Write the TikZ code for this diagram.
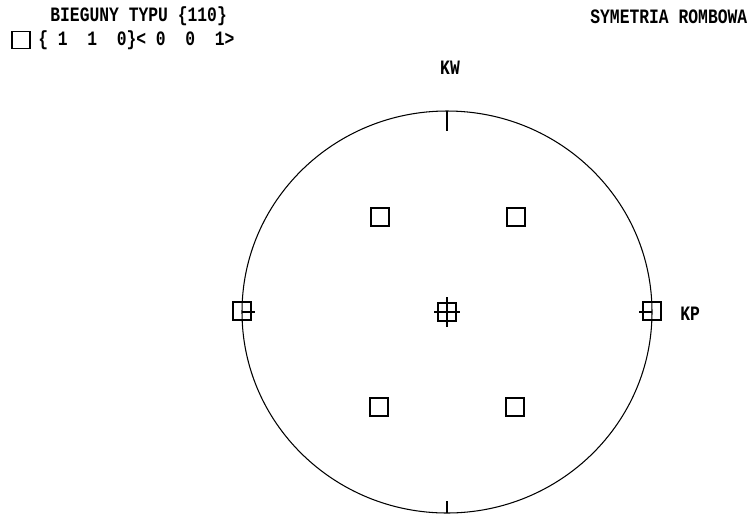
\documentclass[tikz,border=0pt]{standalone}
\usepackage{fontspec}
\setmonofont{Liberation Mono}
\usetikzlibrary{positioning}

\begin{document}
\begin{tikzpicture}[
    x=0.02cm, y=-0.02cm,
    pole/.style={rectangle, draw, line width=1.3pt, minimum size=0.36cm, inner sep=0pt},
    txt/.style={font=\ttfamily\bfseries\fontsize{9.3}{10}\selectfont, inner sep=0pt, yscale=1.25, transform shape}
]
\useasboundingbox (0,0) rectangle (751,515);

% header
\node[txt, anchor=west] (title) at (50,16.5) {BIEGUNY TYPU \{110\}};
\node[txt, anchor=west] (sym) at (590,16.5) {SYMETRIA ROMBOWA};
\node[pole, line width=0.9pt, minimum width=0.36cm, minimum height=0.34cm] (key) at (21,40) {};
\node[txt, anchor=west] (dir) at (38,40) {\{\ 1\ \ 1\ \ 0\}<\ 0\ \ 0\ \ 1>};

% projection circle
\coordinate (o) at (447,312);
\draw[line width=0.6pt] (o) ellipse [x radius=205, y radius=201];
\node[txt] (kw) at (450,68) {KW};
\node[txt, anchor=west] (kp) at (680,314) {KP};

% ticks
\draw[line width=0.6pt] (447,111) -- (447,131);
\draw[line width=0.6pt] (447,513) -- (447,501);
\draw[line width=0.6pt] (242,312) -- (255,312);
\draw[line width=0.6pt] (652,312) -- (639,312);

% poles {110}
\node[pole] (c) at (o) {};
\node[pole] (nw) at (380,217) {};
\node[pole] (ne) at (516,217) {};
\node[pole] (sw) at (379,407) {};
\node[pole] (se) at (515,407) {};
\node[pole, line width=0.9pt] (w) at (242,311) {};
\node[pole, line width=0.9pt] (e) at (652,311) {};

% cross at centre
\draw[line width=0.6pt] ([xshift=-0.26cm]c.center) -- ([xshift=0.26cm]c.center);
\draw[line width=0.6pt] ([yshift=-0.3cm]c.center) -- ([yshift=0.3cm]c.center);
\end{tikzpicture}
\end{document}
